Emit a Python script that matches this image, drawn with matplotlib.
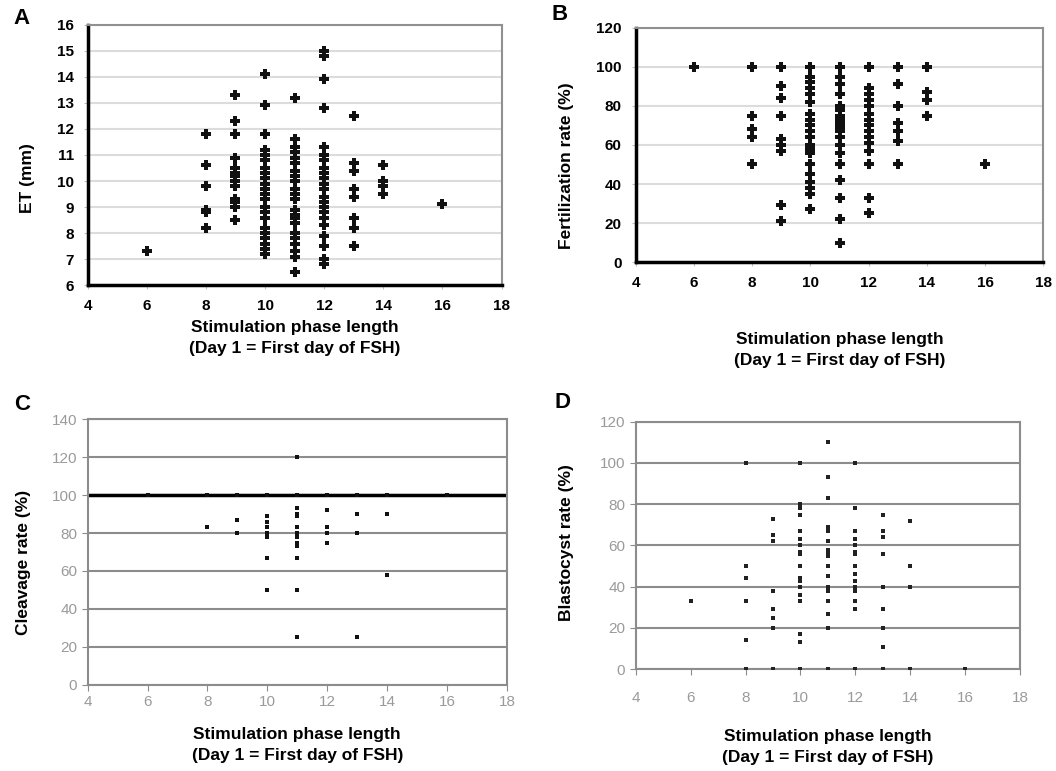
import numpy as np
import matplotlib
matplotlib.use('Agg')
import matplotlib.pyplot as plt

plt.rcParams['font.family'] = ['Liberation Sans', 'DejaVu Sans']

# Panel A: endometrial thickness (mm) per stimulation length
et = {
    6: [7.3],
    8: [11.8, 10.6, 9.8, 8.9, 8.8, 8.2, 8.2],
    9: [13.3, 12.3, 11.8, 10.9, 10.5, 10.3, 10.2, 10.0, 9.8, 9.3, 9.2, 9.0, 8.5],
    10: [14.1, 12.9, 11.8, 11.2, 11.0, 10.8, 10.5, 10.3, 10.1, 9.9, 9.7, 9.5,
         9.3, 9.0, 8.8, 8.6, 8.2, 8.0, 7.8, 7.6, 7.4, 7.2],
    11: [13.2, 11.6, 11.3, 11.1, 10.9, 10.7, 10.4, 10.2, 10.0, 9.7, 9.5, 9.3,
         8.9, 8.7, 8.6, 8.4, 8.0, 7.8, 7.6, 7.3, 7.1, 6.5],
    12: [15.0, 14.8, 13.9, 12.8, 11.3, 11.0, 10.8, 10.5, 10.3, 10.1, 9.9, 9.7,
         9.4, 9.2, 9.0, 8.8, 8.6, 8.3, 7.9, 7.5, 7.0, 6.8],
    13: [12.5, 10.7, 10.4, 9.7, 9.4, 8.6, 8.2, 7.5],
    14: [10.6, 10.0, 9.8, 9.5],
    16: [9.1],
}

# Panel B: fertilization rate (%)
fert = {
    6: [100],
    8: [100, 75, 68, 64, 50],
    9: [100, 90, 84, 75, 63, 60, 57, 29, 21],
    10: [100, 95, 92, 89, 86, 82, 76, 73, 70, 67, 64, 60, 58, 56, 50, 45, 41,
         38, 35, 27],
    11: [100, 95, 91, 86, 80, 78, 75, 73, 71, 69, 67, 64, 60, 56, 50, 42, 33,
         22, 10],
    12: [100, 89, 86, 83, 80, 76, 73, 70, 67, 64, 61, 57, 50, 33, 25],
    13: [100, 91, 80, 71, 67, 62, 50],
    14: [100, 87, 83, 75],
    16: [50],
}

# Panel C: cleavage rate (%)
cleav = {
    6: [100],
    8: [100, 83],
    9: [100, 87, 80],
    10: [100, 89, 86, 83, 80, 78, 67, 50],
    11: [120, 100, 93, 90, 89, 83, 80, 78, 75, 73, 67, 50, 25],
    12: [100, 92, 83, 80, 75],
    13: [100, 90, 80, 25],
    14: [100, 90, 58],
    16: [100],
}

# Panel D: blastocyst rate (%)
blast = {
    6: [33],
    8: [100, 50, 44, 33, 14, 0],
    9: [73, 65, 62, 38, 29, 25, 20, 0],
    10: [100, 80, 78, 75, 67, 63, 60, 57, 56, 50, 44, 43, 40, 36, 33, 17, 13, 0],
    11: [110, 93, 83, 69, 67, 62, 58, 57, 55, 50, 45, 40, 38, 33, 27, 20, 0],
    12: [100, 78, 67, 63, 60, 57, 56, 50, 46, 43, 40, 38, 33, 29, 0],
    13: [75, 67, 64, 56, 40, 29, 20, 11, 0],
    14: [72, 50, 40, 0],
    16: [0],
}

xticks = [4, 6, 8, 10, 12, 14, 16, 18]
xlabel = 'Stimulation phase length\n(Day 1 = First day of FSH)'


def flatten(d):
    xs, ys = [], []
    for k, v in d.items():
        xs += [k] * len(v)
        ys += v
    return np.array(xs), np.array(ys)


fig = plt.figure(figsize=(10.56, 7.71), dpi=100)

axA = fig.add_axes([0.083, 0.630, 0.392, 0.338])
axB = fig.add_axes([0.602, 0.660, 0.386, 0.304])
axC = fig.add_axes([0.083, 0.112, 0.397, 0.344])
axD = fig.add_axes([0.602, 0.132, 0.364, 0.321])


def style_top(ax, yticks, ylabel, lpad):
    ax.set_xlim(4, 18)
    ax.set_xticks(xticks)
    ax.set_ylim(yticks[0], yticks[-1])
    ax.set_yticks(yticks)
    ax.grid(axis='y', color='#dcdcdc', lw=1.5)
    ax.set_axisbelow(True)
    for s in ['left', 'bottom']:
        ax.spines[s].set_linewidth(2.5)
        ax.spines[s].set_color('black')
    for s in ['top', 'right']:
        ax.spines[s].set_linewidth(1.5)
        ax.spines[s].set_color('#909090')
    ax.tick_params(length=3, color='#c0c0c0', labelsize=11, pad=7)
    for lab in ax.get_xticklabels() + ax.get_yticklabels():
        lab.set_fontweight('bold')
    ax.set_ylabel(ylabel, fontsize=12.5, fontweight='bold')
    ax.set_xlabel(xlabel, fontsize=12.5, fontweight='bold', labelpad=lpad,
                  linespacing=1.5)


def style_bottom(ax, yticks, ylabel, lpad):
    ax.set_xlim(4, 18)
    ax.set_xticks(xticks)
    ax.set_ylim(yticks[0], yticks[-1])
    ax.set_yticks(yticks)
    ax.grid(axis='y', color='#8c8c8c', lw=1.5)
    ax.set_axisbelow(True)
    for s in ax.spines.values():
        s.set_linewidth(1.5)
        s.set_color('#8c8c8c')
    ax.tick_params(length=4, color='#8c8c8c', labelsize=11, labelcolor='#9a9a9a')
    ax.set_ylabel(ylabel, fontsize=12.5, fontweight='bold')
    ax.set_xlabel(xlabel, fontsize=12.5, fontweight='bold', labelpad=lpad,
                  linespacing=1.5)


x, y = flatten(et)
axA.scatter(x, y, marker='P', s=50, color='#111111', linewidths=0)
style_top(axA, list(range(6, 17)), 'ET (mm)', 5)

x, y = flatten(fert)
axB.scatter(x, y, marker='P', s=50, color='#111111', linewidths=0)
style_top(axB, [0, 20, 40, 60, 80, 100, 120], 'Fertilization rate (%)', 30)

x, y = flatten(cleav)
axC.scatter(x, y, marker='s', s=10, color='#111111', linewidths=0, zorder=3)
style_bottom(axC, [0, 20, 40, 60, 80, 100, 120, 140], 'Cleavage rate (%)', 13)
axC.axhline(100, color='black', lw=2.5, zorder=2)

x, y = flatten(blast)
axD.scatter(x, y, marker='s', s=10, color='#222222', linewidths=0, zorder=3)
style_bottom(axD, [0, 20, 40, 60, 80, 100, 120], 'Blastocyst rate (%)', 17)
axD.tick_params(axis='x', pad=12)

# y label positions (right edge of rotated label, vertical centre)
axA.yaxis.set_label_coords(-0.128, 0.41)
axB.yaxis.set_label_coords(-0.152, 0.41)
axC.yaxis.set_label_coords(-0.135, 0.46)
axD.yaxis.set_label_coords(-0.16, 0.51)

for lab, (px, py) in zip('ABCD', [(22, 18), (560, 15), (22, 405), (562, 402)]):
    fig.text(px / 1056, 1 - py / 771, lab, fontsize=16, fontweight='bold',
             ha='center', va='center')

fig.savefig('out.png', dpi=100)
